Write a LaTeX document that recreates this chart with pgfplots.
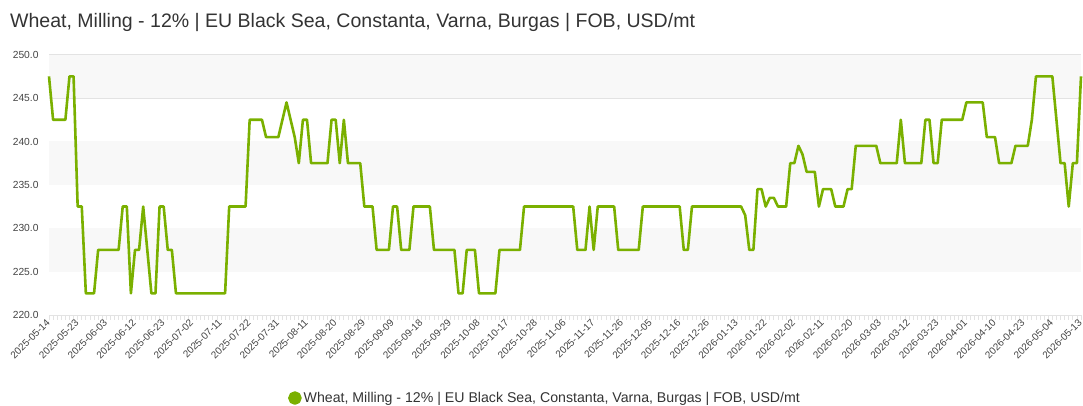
\documentclass[border=0pt]{standalone}
\usepackage{fontspec}
\setmainfont{Liberation Sans}
\usepackage{pgfplots}
\pgfplotsset{compat=1.18}
\definecolor{wheat}{HTML}{7AB000}
\definecolor{band}{HTML}{F8F8F8}
\definecolor{gridc}{HTML}{E3E3E3}
\definecolor{txt}{HTML}{333333}
\definecolor{lbl}{HTML}{444444}
\begin{document}
\begin{tikzpicture}[x=1bp,y=1bp]
\path[use as bounding box] (0,0) rectangle (1083,405);
\node[anchor=base west, text=txt, font=\fontsize{19.6}{23}\selectfont, inner sep=0] at (10,378) {Wheat, Milling - 12\% | EU Black Sea, Constanta, Varna, Burgas | FOB, USD/mt};
\begin{axis}[
  at={(49bp,90bp)}, anchor=south west,
  scale only axis, width=1032bp, height=260.3bp,
  xmin=0, xmax=252, ymin=220, ymax=250,
  axis x line=bottom, axis y line=left,
  axis line style={-},
  x axis line style={gridc, line width=1bp},
  y axis line style={draw=none},
  ytick={220,225,...,250},
  ymajorgrids, grid style={gridc, line width=1bp},
  ytick style={draw=none},
  xtick={0,7,...,252},
  minor x tick num=6,
  tick align=outside,
  xtick style={gridc, line width=0.8bp},
  major tick length=5bp, minor tick length=5bp,
  xticklabels={2025-05-14,2025-05-23,2025-06-03,2025-06-12,2025-06-23,2025-07-02,2025-07-11,2025-07-22,2025-07-31,2025-08-11,2025-08-20,2025-08-29,2025-09-09,2025-09-18,2025-09-29,2025-10-08,2025-10-17,2025-10-28,2025-11-06,2025-11-17,2025-11-26,2025-12-05,2025-12-16,2025-12-26,2026-01-13,2026-01-22,2026-02-02,2026-02-11,2026-02-20,2026-03-03,2026-03-12,2026-03-23,2026-04-01,2026-04-10,2026-04-23,2026-05-04,2026-05-13},
  xticklabel style={rotate=45, anchor=east, font=\fontsize{10}{12}\selectfont, text=lbl, inner sep=1bp},
  yticklabel style={font=\fontsize{10.3}{12}\selectfont, text=lbl, xshift=-2bp},
  /pgf/number format/.cd, fixed, fixed zerofill, precision=1, 1000 sep={}, assume math mode=true,
  /pgfplots/.cd,
  legend style={at={(0.4806,-0.319)}, anchor=center, draw=none, fill=none, font=\fontsize{14.2}{16}\selectfont, text=txt, inner sep=0pt},
  legend image code/.code={\fill[wheat] (0.3em,0) circle (5.5bp);},
  clip=false,
]
\fill[band] (axis cs:0,245) rectangle (axis cs:252,250);
\fill[band] (axis cs:0,235) rectangle (axis cs:252,240);
\fill[band] (axis cs:0,225) rectangle (axis cs:252,230);
\addplot[wheat, line width=2.6bp, line join=round] coordinates {
(0,247.5)(1,242.5)(4,242.5)(5,247.5)(6,247.5)(7,232.5)(8,232.5)(9,222.5)(11,222.5)
(12,227.5)(17,227.5)(18,232.5)(19,232.5)(20,222.5)(21,227.5)(22,227.5)(23,232.5)
(25,222.5)(26,222.5)(27,232.5)(28,232.5)(29,227.5)(30,227.5)(31,222.5)(43,222.5)
(44,232.5)(48,232.5)(49,242.5)(52,242.5)(53,240.5)(56,240.5)(58,244.5)(59,242.5)
(60,240.5)(61,237.5)(62,242.5)(63,242.5)(64,237.5)(68,237.5)(69,242.5)(70,242.5)
(71,237.5)(72,242.5)(73,237.5)(76,237.5)(77,232.5)(79,232.5)(80,227.5)(83,227.5)
(84,232.5)(85,232.5)(86,227.5)(88,227.5)(89,232.5)(93,232.5)(94,227.5)(99,227.5)
(100,222.5)(101,222.5)(102,227.5)(104,227.5)(105,222.5)(109,222.5)(110,227.5)
(115,227.5)(116,232.5)(128,232.5)(129,227.5)(131,227.5)(132,232.5)(133,227.5)
(134,232.5)(138,232.5)(139,227.5)(144,227.5)(145,232.5)(154,232.5)(155,227.5)
(156,227.5)(157,232.5)(169,232.5)(170,231.5)(171,227.5)(172,227.5)(173,234.5)
(174,234.5)(175,232.5)(176,233.5)(177,233.5)(178,232.5)(180,232.5)(181,237.5)
(182,237.5)(183,239.5)(184,238.5)(185,236.5)(187,236.5)(188,232.5)(189,234.5)
(191,234.5)(192,232.5)(194,232.5)(195,234.5)(196,234.5)(197,239.5)(202,239.5)
(203,237.5)(207,237.5)(208,242.5)(209,237.5)(213,237.5)(214,242.5)(215,242.5)
(216,237.5)(217,237.5)(218,242.5)(223,242.5)(224,244.5)(228,244.5)(229,240.5)
(231,240.5)(232,237.5)(235,237.5)(236,239.5)(239,239.5)(240,242.5)(241,247.5)
(245,247.5)(247,237.5)(248,237.5)(249,232.5)(250,237.5)(251,237.5)(252,247.5)
};
\addlegendentry{Wheat, Milling - 12\% | EU Black Sea, Constanta, Varna, Burgas | FOB, USD/mt}
\end{axis}
\end{tikzpicture}
\end{document}
